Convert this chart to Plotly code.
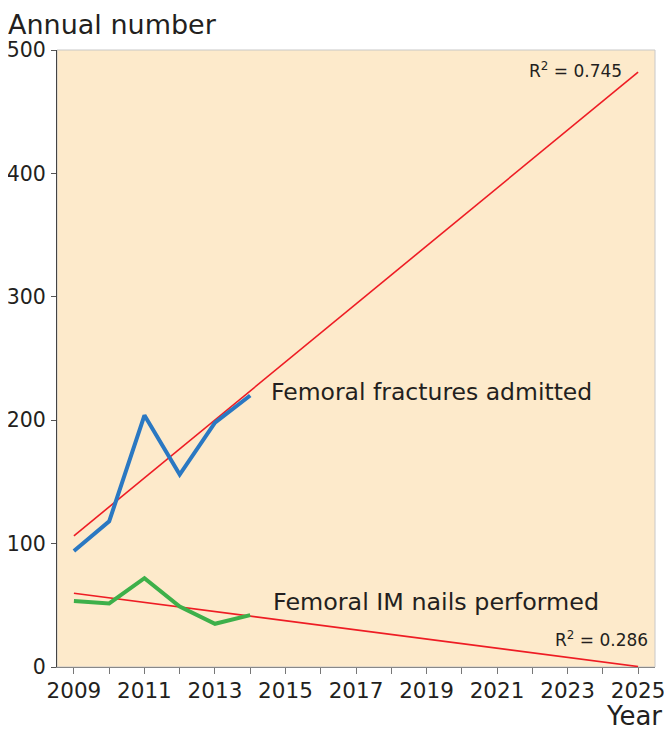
import numpy as np
import plotly.graph_objects as go

years = [2009, 2010, 2011, 2012, 2013, 2014]
fractures_admitted = [94, 118, 204, 156, 198, 220]
im_nails_performed = [53.5, 51.5, 72, 49, 35, 42]
trend_years = [2009, 2025]
r2_fractures = "R<sup>2</sup> = 0.745"
r2_nails = "R<sup>2</sup> = 0.286"
x_tick_labels = [2009, 2011, 2013, 2015, 2017, 2019, 2021, 2023, 2025]
y_tick_labels = [0, 100, 200, 300, 400, 500]

def trend(ys):
    b, a = np.polyfit(years, ys, 1)
    return [a + b * t for t in trend_years]

FONT = "DejaVu Sans, Liberation Sans, Arial, sans-serif"
TXT = "#231f20"
fig = go.Figure()
fig.add_trace(go.Scatter(x=trend_years, y=trend(fractures_admitted), mode="lines",
                         line=dict(color="#ee1c24", width=1.6), showlegend=False))
fig.add_trace(go.Scatter(x=trend_years, y=trend(im_nails_performed), mode="lines",
                         line=dict(color="#ee1c24", width=1.6), showlegend=False))
fig.add_trace(go.Scatter(x=years, y=fractures_admitted, mode="lines",
                         line=dict(color="#2a78c2", width=4), showlegend=False))
fig.add_trace(go.Scatter(x=years, y=im_nails_performed, mode="lines",
                         line=dict(color="#3db04a", width=4), showlegend=False))

fig.add_annotation(x=2014.52, y=223, text="Femoral fractures admitted", showarrow=False,
                   xanchor="left", yanchor="middle", font=dict(size=23.5, color=TXT, family=FONT))
fig.add_annotation(x=2014.6, y=53, text="Femoral IM nails performed", showarrow=False,
                   xanchor="left", yanchor="middle", font=dict(size=23.8, color=TXT, family=FONT))
fig.add_annotation(x=2024.6, y=484, text=r2_fractures, showarrow=False,
                   xanchor="right", yanchor="middle", font=dict(size=17, color=TXT, family=FONT))
fig.add_annotation(x=2025.33, y=23, text=r2_nails, showarrow=False,
                   xanchor="right", yanchor="middle", font=dict(size=17, color=TXT, family=FONT))
fig.add_annotation(xref="paper", yref="paper", x=-0.086, y=1.042, text="Annual number", showarrow=False,
                   xanchor="left", yanchor="middle", font=dict(size=27, color=TXT, family=FONT))
fig.add_annotation(xref="paper", yref="paper", x=1.015, y=-0.079, text="Year", showarrow=False,
                   xanchor="right", yanchor="middle", font=dict(size=26, color=TXT, family=FONT))

fig.add_shape(type="rect", xref="paper", yref="paper", x0=0, y0=0, x1=1, y1=1,
              line=dict(color="#c8c8c8", width=1), layer="below")

fig.update_layout(
    width=664, height=723,
    margin=dict(l=49, r=17, t=42, b=64),
    plot_bgcolor="#fdeacb", paper_bgcolor="white",
    font=dict(family=FONT, color=TXT),
    xaxis=dict(range=[2008.52, 2025.48], tickvals=x_tick_labels, ticks="outside", ticklen=6,
               tickcolor="#777", showline=True, linecolor="#888", linewidth=1.2, showgrid=False,
               zeroline=False, tickfont=dict(size=21.5, color=TXT), ticklabelstandoff=-2, automargin=False,
               minor=dict(dtick=1, tick0=2009, ticks="outside", ticklen=6, tickcolor="#777", showgrid=False)),
    yaxis=dict(range=[0, 500], tickvals=y_tick_labels, ticks="outside", ticklen=5, automargin=False,
               tickcolor="#555", showline=True, linecolor="#444", linewidth=1.2, showgrid=False,
               zeroline=False, tickfont=dict(size=20.5, color=TXT), ticklabelstandoff=1),
)
fig.write_html("out.html")
